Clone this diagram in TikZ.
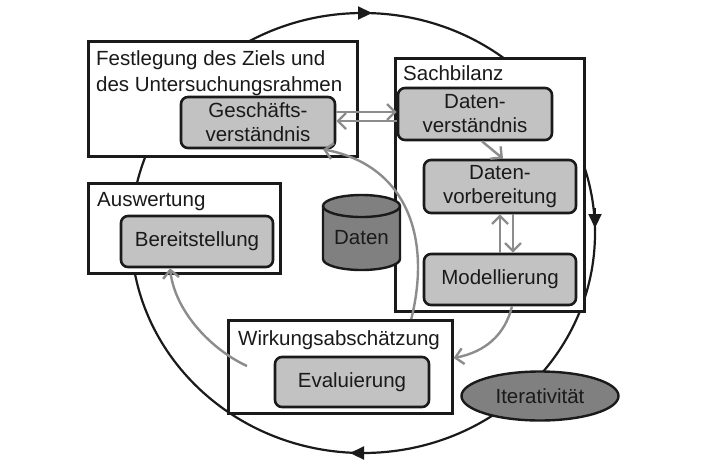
\documentclass[tikz,border=0pt]{standalone}
\usepackage{fontspec}
\setmainfont{Liberation Sans}
\usetikzlibrary{arrows.meta,shapes.geometric}
\definecolor{boxfill}{HTML}{C2C2C2}
\definecolor{darkfill}{HTML}{808080}
\definecolor{arrowgray}{HTML}{8C8C8C}
\definecolor{ink}{HTML}{1A1A1A}
\begin{document}
\begin{tikzpicture}[x=1pt,y=-1pt,
  outerbox/.style={draw=ink, line width=2.6pt, fill=white, anchor=north west, inner sep=0pt},
  innerbox/.style={draw=ink, line width=2.6pt, fill=boxfill, rounded corners=7pt, align=center,
    font=\fontsize{20.5pt}{24pt}\selectfont, text=ink, inner sep=0pt},
  titletext/.style={font=\fontsize{20.5pt}{26.5pt}\selectfont, text=ink, inner sep=0pt, align=left},
  garrow/.style={draw=arrowgray, line width=2.4pt, -{Straight Barb[length=8pt,width=16pt]}},
  cycleline/.style={draw=ink, line width=2.2pt},
  cyclehead/.style={draw=ink, line width=2.2pt, -{Triangle[length=14pt,width=13pt]}},
  darkshape/.style={draw=ink, line width=2.4pt, fill=darkfill},
]
\useasboundingbox (0,0) rectangle (720,464);

% iterative cycle
\draw[cycleline] (363,233) ellipse [x radius=232pt, y radius=220pt];
\draw[cyclehead] (350,13) -- (372,13);
\draw[cyclehead] (595,208) -- (595,228);
\draw[cyclehead] (368,453) -- (350,453);

% outer phase boxes
\node[outerbox, minimum width=269pt, minimum height=115pt] (fest) at (87,40) {};
\node[outerbox, minimum width=189pt, minimum height=253pt] (sach) at (394,57) {};
\node[outerbox, minimum width=192pt, minimum height=90pt] (ausw) at (87,182) {};
\node[outerbox, minimum width=224pt, minimum height=93pt] (wirk) at (227,319) {};

% titles
\node[titletext, anchor=north west] (festt) at (96,50) {Festlegung des Ziels und\\des Untersuchungsrahmen};
\node[titletext, anchor=base west] (sacht) at (403,80) {Sachbilanz};
\node[titletext, anchor=base west] (auswt) at (97,206) {Auswertung};
\node[titletext, anchor=base west] (wirkt) at (238,345) {Wirkungsabschätzung};

% inner steps
\node[innerbox, minimum width=154pt, minimum height=51pt] (gesch) at (258,122.5) {Geschäfts-\\verständnis};
\node[innerbox, minimum width=154pt, minimum height=52pt] (dv) at (475,114) {Daten-\\verständnis};
\node[innerbox, minimum width=152pt, minimum height=53pt] (dvorb) at (500,186.5) {Daten-\\vorbereitung};
\node[innerbox, minimum width=152pt, minimum height=51pt] (mod) at (500,279.5) {Modellierung};
\node[innerbox, minimum width=152pt, minimum height=51pt] (bereit) at (197,241.5) {Bereitstellung};
\node[innerbox, minimum width=154pt, minimum height=50pt] (eval) at (352,382) {Evaluierung};

% data cylinder
\path[darkshape] (323,206) -- (323,259)
  arc[start angle=180, end angle=360, x radius=38.5pt, y radius=11pt]
  -- (400,206)
  arc[start angle=0, end angle=180, x radius=38.5pt, y radius=11pt] -- cycle;
\draw[ink, line width=2.4pt] (323,206) arc[start angle=180, end angle=360, x radius=38.5pt, y radius=11pt];
\node[font=\fontsize{20.5pt}{24pt}\selectfont, text=ink, inner sep=0pt] (daten) at (361.5,238) {Daten};

% iterativity
\node[ellipse, darkshape, minimum width=157pt, minimum height=49pt, inner sep=0pt,
  font=\fontsize{20.5pt}{24pt}\selectfont, text=ink] (iter) at (540,396) {Iterativität};

% grey flow arrows
\coordinate (u1) at (0,112);
\coordinate (u2) at (0,121);
\coordinate (u3) at (0,358);
\coordinate (w5) at (247,366);
\draw[garrow] (gesch.east |- u1) -- (dv.west |- u1);
\draw[garrow] (dv.west |- u2) -- (gesch.east |- u2);
\draw[garrow] ([xshift=7pt]dv.south) -- ([xshift=3pt]dvorb.north);
\draw[garrow] (mod.north) -- (dvorb.south);
\draw[garrow] ([xshift=13pt]dvorb.south) -- ([xshift=13pt]mod.north);
\draw[garrow] ([xshift=12pt]mod.south) .. controls (505,335) and (485,352) .. (wirk.east |- u3);
\draw[garrow] (w5) .. controls (212,350) and (175,312) .. ([xshift=-27pt]bereit.south);
\draw[garrow] ([xshift=71pt]wirk.north) .. controls (432,235) and (405,165) .. ([xshift=65pt]gesch.south);
\end{tikzpicture}
\end{document}
